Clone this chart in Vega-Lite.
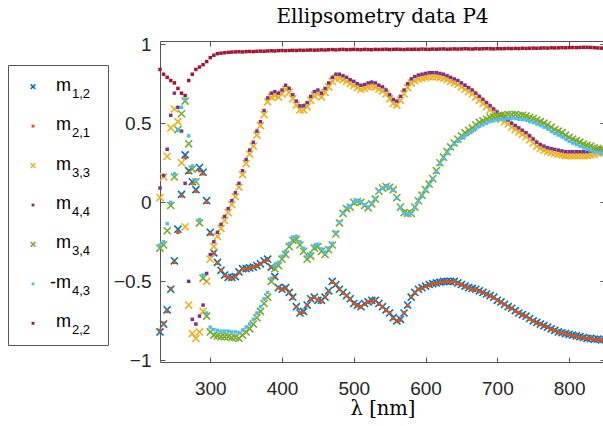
{
"$schema":"https://vega.github.io/schema/vega-lite/v6.json",
"padding":{"left":7,"top":6,"right":0,"bottom":0},
"background":"white",
"config":{"view":{"stroke":null}},
"spacing":3,
"datasets":{
"legend":[{"s":"m12","a":"m","b":"1,2"},{"s":"m21","a":"m","b":"2,1"},{"s":"m33","a":"m","b":"3,3"},{"s":"m44","a":"m","b":"4,4"},{"s":"m34","a":"m","b":"3,4"},{"s":"m43","a":"-m","b":"4,3"},{"s":"m22","a":"m","b":"2,2"}],
"m12":[{"l":230,"v":-0.82},{"l":235,"v":-0.77},{"l":240,"v":-0.68},{"l":245,"v":-0.55},{"l":250,"v":-0.37},{"l":255,"v":-0.17},{"l":260,"v":0.05},{"l":265,"v":0.3},{"l":270,"v":0.2},{"l":275,"v":0.13},{"l":280,"v":0.08},{"l":285,"v":0.22},{"l":290,"v":0.19},{"l":295,"v":0.01},{"l":300,"v":-0.19},{"l":305,"v":-0.32},{"l":310,"v":-0.38},{"l":315,"v":-0.43},{"l":320,"v":-0.46},{"l":325,"v":-0.475},{"l":330,"v":-0.475},{"l":335,"v":-0.47},{"l":340,"v":-0.44},{"l":345,"v":-0.42},{"l":350,"v":-0.42},{"l":355,"v":-0.415},{"l":360,"v":-0.41},{"l":365,"v":-0.4},{"l":370,"v":-0.39},{"l":375,"v":-0.37},{"l":380,"v":-0.36},{"l":385,"v":-0.41},{"l":390,"v":-0.47},{"l":395,"v":-0.54},{"l":400,"v":-0.55},{"l":405,"v":-0.54},{"l":410,"v":-0.57},{"l":415,"v":-0.6},{"l":420,"v":-0.66},{"l":425,"v":-0.7},{"l":430,"v":-0.69},{"l":435,"v":-0.65},{"l":440,"v":-0.61},{"l":445,"v":-0.6},{"l":450,"v":-0.62},{"l":455,"v":-0.62},{"l":460,"v":-0.6},{"l":465,"v":-0.56},{"l":470,"v":-0.5},{"l":475,"v":-0.52},{"l":480,"v":-0.55},{"l":485,"v":-0.57},{"l":490,"v":-0.59},{"l":495,"v":-0.61},{"l":500,"v":-0.64},{"l":505,"v":-0.65},{"l":510,"v":-0.66},{"l":515,"v":-0.64},{"l":520,"v":-0.63},{"l":525,"v":-0.62},{"l":530,"v":-0.62},{"l":535,"v":-0.64},{"l":540,"v":-0.66},{"l":545,"v":-0.68},{"l":550,"v":-0.7},{"l":555,"v":-0.73},{"l":560,"v":-0.75},{"l":565,"v":-0.74},{"l":570,"v":-0.7},{"l":575,"v":-0.65},{"l":580,"v":-0.6},{"l":585,"v":-0.57},{"l":590,"v":-0.55},{"l":595,"v":-0.54},{"l":600,"v":-0.53},{"l":605,"v":-0.52},{"l":610,"v":-0.515},{"l":615,"v":-0.51},{"l":620,"v":-0.505},{"l":625,"v":-0.5},{"l":630,"v":-0.5},{"l":635,"v":-0.5},{"l":640,"v":-0.5},{"l":645,"v":-0.51},{"l":650,"v":-0.52},{"l":655,"v":-0.53},{"l":660,"v":-0.54},{"l":665,"v":-0.545},{"l":670,"v":-0.55},{"l":675,"v":-0.56},{"l":680,"v":-0.57},{"l":685,"v":-0.58},{"l":690,"v":-0.59},{"l":695,"v":-0.6},{"l":700,"v":-0.62},{"l":705,"v":-0.63},{"l":710,"v":-0.645},{"l":715,"v":-0.66},{"l":720,"v":-0.67},{"l":725,"v":-0.685},{"l":730,"v":-0.7},{"l":735,"v":-0.71},{"l":740,"v":-0.72},{"l":745,"v":-0.735},{"l":750,"v":-0.75},{"l":755,"v":-0.76},{"l":760,"v":-0.77},{"l":765,"v":-0.78},{"l":770,"v":-0.79},{"l":775,"v":-0.8},{"l":780,"v":-0.81},{"l":785,"v":-0.82},{"l":790,"v":-0.825},{"l":795,"v":-0.83},{"l":800,"v":-0.835},{"l":805,"v":-0.84},{"l":810,"v":-0.845},{"l":815,"v":-0.85},{"l":820,"v":-0.855},{"l":825,"v":-0.86},{"l":830,"v":-0.86},{"l":835,"v":-0.865},{"l":840,"v":-0.865},{"l":845,"v":-0.87},{"l":850,"v":-0.87}],
"m21":[{"l":230,"v":-0.81},{"l":235,"v":-0.765},{"l":240,"v":-0.69},{"l":245,"v":-0.545},{"l":250,"v":-0.38},{"l":255,"v":-0.19},{"l":260,"v":0.04},{"l":265,"v":0.28},{"l":270,"v":0.19},{"l":275,"v":0.12},{"l":280,"v":0.07},{"l":285,"v":0.2},{"l":290,"v":0.18},{"l":295,"v":0.0},{"l":300,"v":-0.2},{"l":305,"v":-0.325},{"l":310,"v":-0.385},{"l":315,"v":-0.43},{"l":320,"v":-0.465},{"l":325,"v":-0.475},{"l":330,"v":-0.48},{"l":335,"v":-0.47},{"l":340,"v":-0.445},{"l":345,"v":-0.42},{"l":350,"v":-0.425},{"l":355,"v":-0.415},{"l":360,"v":-0.41},{"l":365,"v":-0.405},{"l":370,"v":-0.39},{"l":375,"v":-0.375},{"l":380,"v":-0.365},{"l":385,"v":-0.41},{"l":390,"v":-0.475},{"l":395,"v":-0.54},{"l":400,"v":-0.55},{"l":405,"v":-0.545},{"l":410,"v":-0.57},{"l":415,"v":-0.605},{"l":420,"v":-0.66},{"l":425,"v":-0.7},{"l":430,"v":-0.695},{"l":435,"v":-0.65},{"l":440,"v":-0.615},{"l":445,"v":-0.6},{"l":450,"v":-0.62},{"l":455,"v":-0.625},{"l":460,"v":-0.6},{"l":465,"v":-0.565},{"l":470,"v":-0.505},{"l":475,"v":-0.52},{"l":480,"v":-0.55},{"l":485,"v":-0.575},{"l":490,"v":-0.59},{"l":495,"v":-0.615},{"l":500,"v":-0.64},{"l":505,"v":-0.655},{"l":510,"v":-0.66},{"l":515,"v":-0.645},{"l":520,"v":-0.63},{"l":525,"v":-0.625},{"l":530,"v":-0.62},{"l":535,"v":-0.645},{"l":540,"v":-0.66},{"l":545,"v":-0.685},{"l":550,"v":-0.7},{"l":555,"v":-0.735},{"l":560,"v":-0.75},{"l":565,"v":-0.745},{"l":570,"v":-0.7},{"l":575,"v":-0.655},{"l":580,"v":-0.6},{"l":585,"v":-0.575},{"l":590,"v":-0.55},{"l":595,"v":-0.545},{"l":600,"v":-0.53},{"l":605,"v":-0.525},{"l":610,"v":-0.515},{"l":615,"v":-0.515},{"l":620,"v":-0.505},{"l":625,"v":-0.505},{"l":630,"v":-0.5},{"l":635,"v":-0.505},{"l":640,"v":-0.5},{"l":645,"v":-0.515},{"l":650,"v":-0.52},{"l":655,"v":-0.535},{"l":660,"v":-0.54},{"l":665,"v":-0.55},{"l":670,"v":-0.55},{"l":675,"v":-0.565},{"l":680,"v":-0.57},{"l":685,"v":-0.585},{"l":690,"v":-0.59},{"l":695,"v":-0.605},{"l":700,"v":-0.62},{"l":705,"v":-0.635},{"l":710,"v":-0.645},{"l":715,"v":-0.665},{"l":720,"v":-0.67},{"l":725,"v":-0.69},{"l":730,"v":-0.7},{"l":735,"v":-0.715},{"l":740,"v":-0.72},{"l":745,"v":-0.74},{"l":750,"v":-0.75},{"l":755,"v":-0.765},{"l":760,"v":-0.77},{"l":765,"v":-0.785},{"l":770,"v":-0.79},{"l":775,"v":-0.805},{"l":780,"v":-0.81},{"l":785,"v":-0.825},{"l":790,"v":-0.825},{"l":795,"v":-0.835},{"l":800,"v":-0.835},{"l":805,"v":-0.845},{"l":810,"v":-0.845},{"l":815,"v":-0.855},{"l":820,"v":-0.855},{"l":825,"v":-0.865},{"l":830,"v":-0.86},{"l":835,"v":-0.87},{"l":840,"v":-0.865},{"l":845,"v":-0.875},{"l":850,"v":-0.87}],
"m33":[{"l":230,"v":0.03},{"l":235,"v":0.16},{"l":240,"v":0.29},{"l":245,"v":0.47},{"l":250,"v":0.59},{"l":255,"v":0.51},{"l":260,"v":0.25},{"l":265,"v":-0.155},{"l":270,"v":-0.65},{"l":275,"v":-0.83},{"l":280,"v":-0.86},{"l":285,"v":-0.82},{"l":290,"v":-0.69},{"l":295,"v":-0.5},{"l":300,"v":-0.36},{"l":305,"v":-0.28},{"l":310,"v":-0.215},{"l":315,"v":-0.165},{"l":320,"v":-0.115},{"l":325,"v":-0.065},{"l":330,"v":-0.015},{"l":335,"v":0.035},{"l":340,"v":0.095},{"l":345,"v":0.175},{"l":350,"v":0.245},{"l":355,"v":0.305},{"l":360,"v":0.355},{"l":365,"v":0.425},{"l":370,"v":0.485},{"l":375,"v":0.555},{"l":380,"v":0.635},{"l":385,"v":0.665},{"l":390,"v":0.675},{"l":395,"v":0.665},{"l":400,"v":0.685},{"l":405,"v":0.715},{"l":410,"v":0.695},{"l":415,"v":0.655},{"l":420,"v":0.615},{"l":425,"v":0.585},{"l":430,"v":0.585},{"l":435,"v":0.605},{"l":440,"v":0.645},{"l":445,"v":0.675},{"l":450,"v":0.685},{"l":455,"v":0.665},{"l":460,"v":0.695},{"l":465,"v":0.73},{"l":470,"v":0.765},{"l":475,"v":0.785},{"l":480,"v":0.785},{"l":485,"v":0.775},{"l":490,"v":0.765},{"l":495,"v":0.75},{"l":500,"v":0.74},{"l":505,"v":0.725},{"l":510,"v":0.715},{"l":515,"v":0.72},{"l":520,"v":0.73},{"l":525,"v":0.735},{"l":530,"v":0.73},{"l":535,"v":0.715},{"l":540,"v":0.705},{"l":545,"v":0.685},{"l":550,"v":0.655},{"l":555,"v":0.625},{"l":560,"v":0.615},{"l":565,"v":0.645},{"l":570,"v":0.685},{"l":575,"v":0.725},{"l":580,"v":0.755},{"l":585,"v":0.77},{"l":590,"v":0.78},{"l":595,"v":0.785},{"l":600,"v":0.79},{"l":605,"v":0.795},{"l":610,"v":0.795},{"l":615,"v":0.795},{"l":620,"v":0.79},{"l":625,"v":0.785},{"l":630,"v":0.775},{"l":635,"v":0.765},{"l":640,"v":0.755},{"l":645,"v":0.745},{"l":650,"v":0.73},{"l":655,"v":0.715},{"l":660,"v":0.7},{"l":665,"v":0.685},{"l":670,"v":0.665},{"l":675,"v":0.645},{"l":680,"v":0.625},{"l":685,"v":0.605},{"l":690,"v":0.585},{"l":695,"v":0.565},{"l":700,"v":0.545},{"l":705,"v":0.525},{"l":710,"v":0.51},{"l":715,"v":0.495},{"l":720,"v":0.475},{"l":725,"v":0.46},{"l":730,"v":0.445},{"l":735,"v":0.43},{"l":740,"v":0.415},{"l":745,"v":0.395},{"l":750,"v":0.375},{"l":755,"v":0.355},{"l":760,"v":0.34},{"l":765,"v":0.33},{"l":770,"v":0.32},{"l":775,"v":0.315},{"l":780,"v":0.31},{"l":785,"v":0.305},{"l":790,"v":0.3},{"l":795,"v":0.295},{"l":800,"v":0.295},{"l":805,"v":0.295},{"l":810,"v":0.295},{"l":815,"v":0.295},{"l":820,"v":0.295},{"l":825,"v":0.295},{"l":830,"v":0.3},{"l":835,"v":0.305},{"l":840,"v":0.31},{"l":845,"v":0.315},{"l":850,"v":0.315}],
"m44":[{"l":230,"v":0.09},{"l":235,"v":0.17},{"l":240,"v":0.335},{"l":245,"v":0.55},{"l":250,"v":0.69},{"l":255,"v":0.6},{"l":260,"v":0.45},{"l":265,"v":0.12},{"l":270,"v":-0.5},{"l":275,"v":-0.74},{"l":280,"v":-0.77},{"l":285,"v":-0.72},{"l":290,"v":-0.65},{"l":295,"v":-0.45},{"l":300,"v":-0.33},{"l":305,"v":-0.25},{"l":310,"v":-0.19},{"l":315,"v":-0.14},{"l":320,"v":-0.09},{"l":325,"v":-0.04},{"l":330,"v":0.01},{"l":335,"v":0.06},{"l":340,"v":0.12},{"l":345,"v":0.2},{"l":350,"v":0.27},{"l":355,"v":0.33},{"l":360,"v":0.38},{"l":365,"v":0.45},{"l":370,"v":0.51},{"l":375,"v":0.58},{"l":380,"v":0.66},{"l":385,"v":0.69},{"l":390,"v":0.7},{"l":395,"v":0.69},{"l":400,"v":0.71},{"l":405,"v":0.74},{"l":410,"v":0.72},{"l":415,"v":0.68},{"l":420,"v":0.64},{"l":425,"v":0.61},{"l":430,"v":0.61},{"l":435,"v":0.63},{"l":440,"v":0.67},{"l":445,"v":0.7},{"l":450,"v":0.71},{"l":455,"v":0.69},{"l":460,"v":0.72},{"l":465,"v":0.755},{"l":470,"v":0.79},{"l":475,"v":0.81},{"l":480,"v":0.81},{"l":485,"v":0.8},{"l":490,"v":0.79},{"l":495,"v":0.775},{"l":500,"v":0.765},{"l":505,"v":0.75},{"l":510,"v":0.74},{"l":515,"v":0.745},{"l":520,"v":0.755},{"l":525,"v":0.76},{"l":530,"v":0.755},{"l":535,"v":0.74},{"l":540,"v":0.73},{"l":545,"v":0.71},{"l":550,"v":0.68},{"l":555,"v":0.65},{"l":560,"v":0.64},{"l":565,"v":0.67},{"l":570,"v":0.71},{"l":575,"v":0.75},{"l":580,"v":0.78},{"l":585,"v":0.795},{"l":590,"v":0.805},{"l":595,"v":0.81},{"l":600,"v":0.815},{"l":605,"v":0.82},{"l":610,"v":0.82},{"l":615,"v":0.82},{"l":620,"v":0.815},{"l":625,"v":0.81},{"l":630,"v":0.8},{"l":635,"v":0.79},{"l":640,"v":0.78},{"l":645,"v":0.77},{"l":650,"v":0.755},{"l":655,"v":0.74},{"l":660,"v":0.725},{"l":665,"v":0.71},{"l":670,"v":0.69},{"l":675,"v":0.67},{"l":680,"v":0.65},{"l":685,"v":0.63},{"l":690,"v":0.61},{"l":695,"v":0.59},{"l":700,"v":0.57},{"l":705,"v":0.55},{"l":710,"v":0.535},{"l":715,"v":0.52},{"l":720,"v":0.5},{"l":725,"v":0.485},{"l":730,"v":0.47},{"l":735,"v":0.455},{"l":740,"v":0.44},{"l":745,"v":0.42},{"l":750,"v":0.4},{"l":755,"v":0.38},{"l":760,"v":0.365},{"l":765,"v":0.355},{"l":770,"v":0.345},{"l":775,"v":0.34},{"l":780,"v":0.335},{"l":785,"v":0.33},{"l":790,"v":0.325},{"l":795,"v":0.32},{"l":800,"v":0.32},{"l":805,"v":0.32},{"l":810,"v":0.32},{"l":815,"v":0.32},{"l":820,"v":0.32},{"l":825,"v":0.32},{"l":830,"v":0.325},{"l":835,"v":0.33},{"l":840,"v":0.335},{"l":845,"v":0.34},{"l":850,"v":0.34}],
"m34":[{"l":230,"v":-0.29},{"l":235,"v":-0.27},{"l":240,"v":-0.18},{"l":245,"v":-0.02},{"l":250,"v":0.16},{"l":255,"v":0.46},{"l":260,"v":0.56},{"l":265,"v":0.64},{"l":270,"v":0.37},{"l":275,"v":0.21},{"l":280,"v":0.13},{"l":285,"v":-0.13},{"l":290,"v":-0.48},{"l":295,"v":-0.72},{"l":300,"v":-0.82},{"l":305,"v":-0.84},{"l":310,"v":-0.845},{"l":315,"v":-0.85},{"l":320,"v":-0.85},{"l":325,"v":-0.85},{"l":330,"v":-0.855},{"l":335,"v":-0.855},{"l":340,"v":-0.86},{"l":345,"v":-0.84},{"l":350,"v":-0.82},{"l":355,"v":-0.8},{"l":360,"v":-0.77},{"l":365,"v":-0.73},{"l":370,"v":-0.69},{"l":375,"v":-0.64},{"l":380,"v":-0.6},{"l":385,"v":-0.5},{"l":390,"v":-0.42},{"l":395,"v":-0.4},{"l":400,"v":-0.36},{"l":405,"v":-0.33},{"l":410,"v":-0.28},{"l":415,"v":-0.24},{"l":420,"v":-0.235},{"l":425,"v":-0.27},{"l":430,"v":-0.31},{"l":435,"v":-0.36},{"l":440,"v":-0.34},{"l":445,"v":-0.29},{"l":450,"v":-0.28},{"l":455,"v":-0.31},{"l":460,"v":-0.33},{"l":465,"v":-0.3},{"l":470,"v":-0.27},{"l":475,"v":-0.2},{"l":480,"v":-0.13},{"l":485,"v":-0.07},{"l":490,"v":-0.04},{"l":495,"v":-0.03},{"l":500,"v":0.0},{"l":505,"v":0.005},{"l":510,"v":0.0},{"l":515,"v":-0.02},{"l":520,"v":-0.035},{"l":525,"v":-0.01},{"l":530,"v":0.02},{"l":535,"v":0.07},{"l":540,"v":0.09},{"l":545,"v":0.1},{"l":550,"v":0.095},{"l":555,"v":0.08},{"l":560,"v":0.03},{"l":565,"v":-0.03},{"l":570,"v":-0.065},{"l":575,"v":-0.07},{"l":580,"v":-0.07},{"l":585,"v":-0.03},{"l":590,"v":0.01},{"l":595,"v":0.045},{"l":600,"v":0.08},{"l":605,"v":0.115},{"l":610,"v":0.15},{"l":615,"v":0.2},{"l":620,"v":0.25},{"l":625,"v":0.285},{"l":630,"v":0.32},{"l":635,"v":0.35},{"l":640,"v":0.375},{"l":645,"v":0.4},{"l":650,"v":0.42},{"l":655,"v":0.44},{"l":660,"v":0.455},{"l":665,"v":0.47},{"l":670,"v":0.49},{"l":675,"v":0.505},{"l":680,"v":0.515},{"l":685,"v":0.525},{"l":690,"v":0.535},{"l":695,"v":0.54},{"l":700,"v":0.545},{"l":705,"v":0.55},{"l":710,"v":0.55},{"l":715,"v":0.555},{"l":720,"v":0.555},{"l":725,"v":0.555},{"l":730,"v":0.55},{"l":735,"v":0.55},{"l":740,"v":0.545},{"l":745,"v":0.535},{"l":750,"v":0.53},{"l":755,"v":0.52},{"l":760,"v":0.51},{"l":765,"v":0.5},{"l":770,"v":0.49},{"l":775,"v":0.475},{"l":780,"v":0.46},{"l":785,"v":0.45},{"l":790,"v":0.44},{"l":795,"v":0.425},{"l":800,"v":0.41},{"l":805,"v":0.4},{"l":810,"v":0.39},{"l":815,"v":0.38},{"l":820,"v":0.37},{"l":825,"v":0.36},{"l":830,"v":0.355},{"l":835,"v":0.345},{"l":840,"v":0.34},{"l":845,"v":0.335},{"l":850,"v":0.33}],
"m43":[{"l":230,"v":-0.27},{"l":235,"v":-0.25},{"l":240,"v":-0.135},{"l":245,"v":0.0},{"l":250,"v":0.18},{"l":255,"v":0.455},{"l":260,"v":0.6},{"l":265,"v":0.65},{"l":270,"v":0.42},{"l":275,"v":0.23},{"l":280,"v":0.14},{"l":285,"v":-0.11},{"l":290,"v":-0.46},{"l":295,"v":-0.7},{"l":300,"v":-0.79},{"l":305,"v":-0.805},{"l":310,"v":-0.81},{"l":315,"v":-0.815},{"l":320,"v":-0.815},{"l":325,"v":-0.815},{"l":330,"v":-0.82},{"l":335,"v":-0.82},{"l":340,"v":-0.825},{"l":345,"v":-0.81},{"l":350,"v":-0.79},{"l":355,"v":-0.77},{"l":360,"v":-0.74},{"l":365,"v":-0.7},{"l":370,"v":-0.66},{"l":375,"v":-0.61},{"l":380,"v":-0.57},{"l":385,"v":-0.48},{"l":390,"v":-0.4},{"l":395,"v":-0.38},{"l":400,"v":-0.34},{"l":405,"v":-0.31},{"l":410,"v":-0.26},{"l":415,"v":-0.22},{"l":420,"v":-0.215},{"l":425,"v":-0.25},{"l":430,"v":-0.29},{"l":435,"v":-0.34},{"l":440,"v":-0.32},{"l":445,"v":-0.275},{"l":450,"v":-0.265},{"l":455,"v":-0.295},{"l":460,"v":-0.315},{"l":465,"v":-0.29},{"l":470,"v":-0.26},{"l":475,"v":-0.19},{"l":480,"v":-0.125},{"l":485,"v":-0.07},{"l":490,"v":-0.035},{"l":495,"v":-0.025},{"l":500,"v":0.005},{"l":505,"v":0.01},{"l":510,"v":0.005},{"l":515,"v":-0.015},{"l":520,"v":-0.03},{"l":525,"v":-0.005},{"l":530,"v":0.025},{"l":535,"v":0.07},{"l":540,"v":0.09},{"l":545,"v":0.1},{"l":550,"v":0.095},{"l":555,"v":0.075},{"l":560,"v":0.025},{"l":565,"v":-0.035},{"l":570,"v":-0.07},{"l":575,"v":-0.075},{"l":580,"v":-0.07},{"l":585,"v":-0.035},{"l":590,"v":0.005},{"l":595,"v":0.04},{"l":600,"v":0.075},{"l":605,"v":0.11},{"l":610,"v":0.145},{"l":615,"v":0.19},{"l":620,"v":0.24},{"l":625,"v":0.275},{"l":630,"v":0.31},{"l":635,"v":0.34},{"l":640,"v":0.365},{"l":645,"v":0.385},{"l":650,"v":0.405},{"l":655,"v":0.42},{"l":660,"v":0.435},{"l":665,"v":0.45},{"l":670,"v":0.465},{"l":675,"v":0.48},{"l":680,"v":0.49},{"l":685,"v":0.5},{"l":690,"v":0.51},{"l":695,"v":0.515},{"l":700,"v":0.52},{"l":705,"v":0.525},{"l":710,"v":0.525},{"l":715,"v":0.53},{"l":720,"v":0.53},{"l":725,"v":0.53},{"l":730,"v":0.525},{"l":735,"v":0.525},{"l":740,"v":0.52},{"l":745,"v":0.51},{"l":750,"v":0.505},{"l":755,"v":0.495},{"l":760,"v":0.485},{"l":765,"v":0.475},{"l":770,"v":0.465},{"l":775,"v":0.45},{"l":780,"v":0.435},{"l":785,"v":0.425},{"l":790,"v":0.415},{"l":795,"v":0.4},{"l":800,"v":0.385},{"l":805,"v":0.375},{"l":810,"v":0.365},{"l":815,"v":0.355},{"l":820,"v":0.345},{"l":825,"v":0.335},{"l":830,"v":0.33},{"l":835,"v":0.32},{"l":840,"v":0.315},{"l":845,"v":0.31},{"l":850,"v":0.305}],
"m22":[{"l":230,"v":0.84},{"l":235,"v":0.81},{"l":240,"v":0.79},{"l":245,"v":0.77},{"l":250,"v":0.755},{"l":255,"v":0.72},{"l":260,"v":0.69},{"l":265,"v":0.675},{"l":270,"v":0.77},{"l":275,"v":0.81},{"l":280,"v":0.84},{"l":285,"v":0.855},{"l":290,"v":0.87},{"l":295,"v":0.89},{"l":300,"v":0.915},{"l":305,"v":0.93},{"l":310,"v":0.94},{"l":315,"v":0.943},{"l":320,"v":0.946},{"l":325,"v":0.948},{"l":330,"v":0.95},{"l":335,"v":0.951},{"l":340,"v":0.952},{"l":345,"v":0.951},{"l":350,"v":0.953},{"l":355,"v":0.954},{"l":360,"v":0.953},{"l":365,"v":0.955},{"l":370,"v":0.956},{"l":375,"v":0.955},{"l":380,"v":0.957},{"l":385,"v":0.958},{"l":390,"v":0.957},{"l":395,"v":0.959},{"l":400,"v":0.96},{"l":405,"v":0.959},{"l":410,"v":0.96},{"l":415,"v":0.961},{"l":420,"v":0.96},{"l":425,"v":0.962},{"l":430,"v":0.961},{"l":435,"v":0.962},{"l":440,"v":0.963},{"l":445,"v":0.962},{"l":450,"v":0.963},{"l":455,"v":0.964},{"l":460,"v":0.963},{"l":465,"v":0.965},{"l":470,"v":0.966},{"l":475,"v":0.964},{"l":480,"v":0.966},{"l":485,"v":0.967},{"l":490,"v":0.965},{"l":495,"v":0.966},{"l":500,"v":0.967},{"l":505,"v":0.966},{"l":510,"v":0.965},{"l":515,"v":0.967},{"l":520,"v":0.966},{"l":525,"v":0.965},{"l":530,"v":0.967},{"l":535,"v":0.966},{"l":540,"v":0.967},{"l":545,"v":0.968},{"l":550,"v":0.966},{"l":555,"v":0.967},{"l":560,"v":0.968},{"l":565,"v":0.967},{"l":570,"v":0.966},{"l":575,"v":0.968},{"l":580,"v":0.967},{"l":585,"v":0.968},{"l":590,"v":0.967},{"l":595,"v":0.969},{"l":600,"v":0.968},{"l":605,"v":0.967},{"l":610,"v":0.969},{"l":615,"v":0.968},{"l":620,"v":0.969},{"l":625,"v":0.97},{"l":630,"v":0.968},{"l":635,"v":0.969},{"l":640,"v":0.97},{"l":645,"v":0.969},{"l":650,"v":0.97},{"l":655,"v":0.971},{"l":660,"v":0.97},{"l":665,"v":0.969},{"l":670,"v":0.971},{"l":675,"v":0.97},{"l":680,"v":0.971},{"l":685,"v":0.972},{"l":690,"v":0.971},{"l":695,"v":0.97},{"l":700,"v":0.972},{"l":705,"v":0.971},{"l":710,"v":0.972},{"l":715,"v":0.973},{"l":720,"v":0.972},{"l":725,"v":0.973},{"l":730,"v":0.972},{"l":735,"v":0.974},{"l":740,"v":0.973},{"l":745,"v":0.974},{"l":750,"v":0.975},{"l":755,"v":0.974},{"l":760,"v":0.975},{"l":765,"v":0.976},{"l":770,"v":0.975},{"l":775,"v":0.977},{"l":780,"v":0.976},{"l":785,"v":0.977},{"l":790,"v":0.978},{"l":795,"v":0.977},{"l":800,"v":0.978},{"l":805,"v":0.979},{"l":810,"v":0.978},{"l":815,"v":0.979},{"l":820,"v":0.98},{"l":825,"v":0.98},{"l":830,"v":0.979},{"l":835,"v":0.978},{"l":840,"v":0.976},{"l":845,"v":0.975},{"l":850,"v":0.974}]
},
"hconcat":[
{"spacing":20,"vconcat":[
{"width":100,"height":3,"data":{"values":[]},"mark":{"type":"point","opacity":0}},
{
"width":100,"height":280,
"view":{"stroke":"#555555","strokeWidth":1},
"data":{"name":"legend"},
"encoding":{
"y":{"field":"s","type":"nominal","sort":["m12","m21","m33","m44","m34","m43","m22"],"scale":{"type":"point","padding":0.55},"axis":null},
"color":{"field":"s","type":"nominal","scale":{"domain":["m12","m21","m33","m44","m34","m43","m22"],"range":["#0072BD","#D95319","#EDB120","#7E2F8E","#77AC30","#4DBEEE","#A2142F"]},"legend":null}
},
"layer":[
{"transform":[{"filter":{"field":"s","oneOf":["m12","m33","m34"]}}],"mark":{"type":"point","shape":"M-1,-1L1,1M-1,1L1,-1","filled":false,"size":22,"strokeWidth":1.5,"opacity":1,"xOffset":-25}},
{"transform":[{"filter":{"field":"s","oneOf":["m21","m44","m43","m22"]}}],"mark":{"type":"square","size":8,"opacity":1,"xOffset":-25}},
{"mark":{"type":"text","align":"right","baseline":"alphabetic","dx":13,"dy":4,"fontSize":18,"font":"Liberation Sans","color":"#000000"},"encoding":{"text":{"field":"a"},"color":{"value":"#000000"}}},
{"mark":{"type":"text","align":"left","baseline":"alphabetic","dx":14,"dy":11,"fontSize":13,"font":"Liberation Sans","color":"#000000"},"encoding":{"text":{"field":"b"},"color":{"value":"#000000"}}}
]
}
]},
{
"width":445,"height":321,
"view":{"stroke":"#555555","strokeWidth":1},
"title":{"text":"Ellipsometry data P4","font":"DejaVu Serif","fontSize":20,"fontWeight":"normal","color":"#000000","offset":8},
"encoding":{
"x":{"field":"l","type":"quantitative","scale":{"domain":[230,850],"nice":false,"zero":false},"axis":null},
"y":{"field":"v","type":"quantitative","scale":{"domain":[-1.01,1.02],"nice":false,"zero":false},"axis":null}
},
"layer":[
{"data":{"name":"m12"},"mark":{"type":"point","shape":"M-1,-1L1,1M-1,1L1,-1","filled":false,"size":50,"strokeWidth":1.6,"opacity":1,"color":"#0072BD"},
"encoding":{
"x":{"field":"l","type":"quantitative","scale":{"domain":[230,850],"nice":false,"zero":false},"axis":{"orient":"bottom","values":[300,400,500,600,700,800],"tickSize":-5,"tickColor":"#555555","domain":false,"grid":false,"labelFont":"Liberation Sans","labelFontSize":19,"labelColor":"#262626","labelPadding":22,"title":"λ [nm]","titleFont":"DejaVu Serif","titleFontSize":19.5,"titleFontWeight":"normal","titleColor":"#000000","titlePadding":1}},
"y":{"field":"v","type":"quantitative","scale":{"domain":[-1.01,1.02],"nice":false,"zero":false},"axis":{"orient":"left","values":[-1,-0.5,0,0.5,1],"format":"~g","tickSize":-5,"tickColor":"#555555","domain":false,"grid":false,"labelFont":"Liberation Sans","labelFontSize":19,"labelColor":"#262626","labelPadding":14,"title":null}}
}},
{"data":{"name":"m21"},"mark":{"type":"square","size":12,"opacity":1,"color":"#D95319"}},
{"data":{"name":"m33"},"mark":{"type":"point","shape":"M-1,-1L1,1M-1,1L1,-1","filled":false,"size":50,"strokeWidth":1.6,"opacity":1,"color":"#EDB120"}},
{"data":{"name":"m44"},"mark":{"type":"square","size":12,"opacity":1,"color":"#7E2F8E"}},
{"data":{"name":"m34"},"mark":{"type":"point","shape":"M-1,-1L1,1M-1,1L1,-1","filled":false,"size":50,"strokeWidth":1.6,"opacity":1,"color":"#77AC30"}},
{"data":{"name":"m43"},"mark":{"type":"square","size":12,"opacity":1,"color":"#4DBEEE"}},
{"data":{"name":"m22"},"mark":{"type":"square","size":12,"opacity":1,"color":"#A2142F"},
"encoding":{
"x":{"field":"l","type":"quantitative","scale":{"domain":[230,850],"nice":false,"zero":false},"axis":{"orient":"top","values":[300,400,500,600,700,800],"labels":false,"tickSize":-5,"tickColor":"#555555","domain":false,"grid":false,"title":null}},
"y":{"field":"v","type":"quantitative","scale":{"domain":[-1.01,1.02],"nice":false,"zero":false},"axis":{"orient":"right","values":[-1,-0.5,0,0.5,1],"labels":false,"tickSize":-5,"tickColor":"#555555","domain":false,"grid":false,"title":null}}
}}
],
"resolve":{"axis":{"x":"independent","y":"independent"}}
}
]
}
